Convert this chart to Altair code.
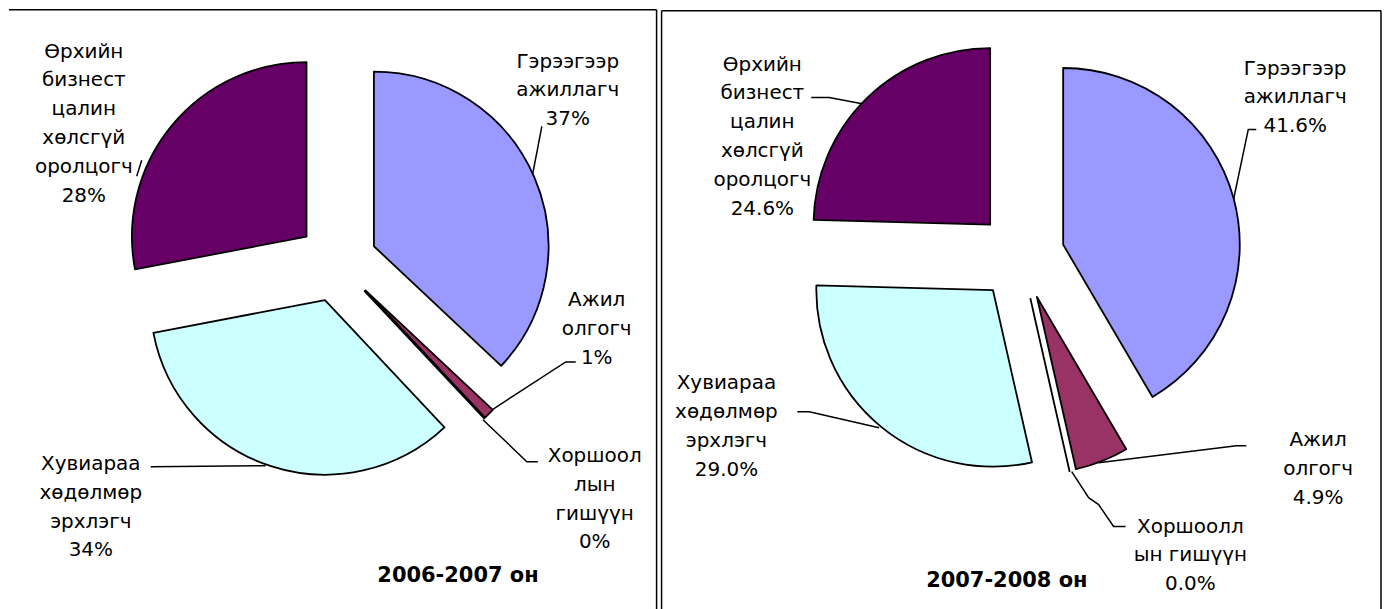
import altair as alt
import pandas as pd

# ---------------- data ----------------
categories = [
    "Гэрээгээр ажиллагч",
    "Ажил олгогч",
    "Хоршооллын гишүүн",
    "Хувиараа хөдөлмөр эрхлэгч",
    "Өрхийн бизнест цалин хөлсгүй оролцогч",
]
values_2006 = [37, 1, 0, 34, 28]
values_2007 = [41.6, 4.9, 0.0, 29.0, 24.6]
colors = ["#9999FF", "#993366", "#FFFFCC", "#CCFFFF", "#660066"]

names_2006 = [
    "Гэрээгээр\nажиллагч",
    "Ажил\nолгогч",
    "Хоршоол\nлын\nгишүүн",
    "Хувиараа\nхөдөлмөр\nэрхлэгч",
    "Өрхийн\nбизнест\nцалин\nхөлсгүй\nоролцогч",
]
names_2007 = [
    "Гэрээгээр\nажиллагч",
    "Ажил\nолгогч",
    "Хоршоолл\nын гишүүн",
    "Хувиараа\nхөдөлмөр\nэрхлэгч",
    "Өрхийн\nбизнест\nцалин\nхөлсгүй\nоролцогч",
]
titles = ["2006-2007 он", "2007-2008 он"]

# ---------------- layout (page pixels) ----------------
OFF = 8
FONT = "DejaVu Sans"

pie_2006 = dict(cx=337, cy=262, r=175, d=40)
pie_2007 = dict(cx=1022, cy=256, r=177, d=44)

# position of the first line of each label (centre x, middle y)
label_pos_2006 = [(568, 61), (597, 300), (595, 456), (90, 464), (83, 51)]
label_pos_2007 = [(1297, 68), (1320, 440), (1192, 527), (727, 383), (763, 64)]
title_pos = [(458, 577), (1008, 582)]

leaders_2006 = [
    [(542, 126), (532, 178)],
    [(486, 414), (566, 362), (576, 362)],
    [(483, 420), (527, 462), (538, 462)],
    [(150, 467), (265, 466)],
    [(136, 176), (141, 160)],
]
leaders_2007 = [
    [(1258, 129), (1250, 129), (1234, 205)],
    [(1100, 463), (1238, 446), (1248, 446)],
    [(1073, 472), (1090, 498), (1100, 505), (1115, 527), (1127, 527)],
    [(798, 412), (810, 412), (880, 428)],
    [(812, 97), (830, 97), (867, 104)],
]
frame_lines = [
    (8, 9, 657, 9), (657, 9, 657, 620),
    (662, 10, 1383, 10), (662, 10, 662, 620), (1383, 10, 1383, 620),
]


def pie(values, names, decimals, geo, label_pos, leaders, title, tpos):
    df = pd.DataFrame({
        "cat": categories,
        "value": values,
        "order": list(range(len(categories))),
        "label": [f"{n}\n{v:.{decimals}f}%" for n, v in zip(names, values)],
        "lx": [p[0] - OFF for p in label_pos],
        "ly": [p[1] - OFF for p in label_pos],
    })
    cx, cy, r, d = geo["cx"] - OFF, geo["cy"] - OFF, geo["r"], geo["d"]
    arcs = (
        alt.Chart(df)
        .transform_joinaggregate(total="sum(value)")
        .transform_window(cum="sum(value)", sort=[alt.SortField("order")], frame=[None, 0])
        .transform_calculate(
            t0="2*PI*(datum.cum-datum.value)/datum.total",
            t1="2*PI*datum.cum/datum.total",
            px=f"{cx}+{d}*sin((datum.t0+datum.t1)/2)",
            py=f"{cy}-{d}*cos((datum.t0+datum.t1)/2)",
        )
        .mark_arc(radius=r, stroke="black", strokeWidth=1.8, strokeJoin="round")
        .encode(
            x=alt.X("px:Q", scale=None),
            y=alt.Y("py:Q", scale=None),
            theta=alt.Theta("t0:Q", scale=None),
            theta2=alt.Theta2("t1:Q"),
            color=alt.Color("cat:N", scale=alt.Scale(domain=categories, range=colors), legend=None),
        )
    )
    labels = (
        alt.Chart(df)
        .mark_text(lineBreak="\n", font=FONT, fontSize=20, lineHeight=29,
                   align="center", baseline="middle", color="black")
        .encode(x=alt.X("lx:Q", scale=None), y=alt.Y("ly:Q", scale=None), text="label:N")
    )
    rows = []
    for i, seg in enumerate(leaders):
        for k, (x, y) in enumerate(seg):
            rows.append({"seg": i, "k": k, "x": x - OFF, "y": y - OFF})
    lead = (
        alt.Chart(pd.DataFrame(rows))
        .mark_line(color="black", strokeWidth=1.5)
        .encode(x=alt.X("x:Q", scale=None), y=alt.Y("y:Q", scale=None),
                detail="seg:N", order="k:Q")
    )
    tdf = pd.DataFrame({"t": [title], "x": [tpos[0] - OFF], "y": [tpos[1] - OFF]})
    ttl = (
        alt.Chart(tdf)
        .mark_text(font=FONT, fontSize=21, fontWeight="bold", align="center",
                   baseline="middle", color="black")
        .encode(x=alt.X("x:Q", scale=None), y=alt.Y("y:Q", scale=None), text="t:N")
    )
    return [lead, arcs, labels, ttl]


fdf = pd.DataFrame(
    [{"x": a - OFF, "y": b - OFF, "x2": c - OFF, "y2": e - OFF} for a, b, c, e in frame_lines]
)
frame = (
    alt.Chart(fdf)
    .mark_rule(color="black", strokeWidth=1.5)
    .encode(x=alt.X("x:Q", scale=None), y=alt.Y("y:Q", scale=None),
            x2="x2:Q", y2="y2:Q")
)

layers = [frame]
layers += pie(values_2006, names_2006, 0, pie_2006, label_pos_2006, leaders_2006, titles[0], title_pos[0])
layers += pie(values_2007, names_2007, 1, pie_2007, label_pos_2007, leaders_2007, titles[1], title_pos[1])

chart = (
    alt.layer(*layers)
    .properties(width=1374, height=601, padding=0, background="white")
    .configure_view(stroke=None)
)

chart.save("out.html", embed_options={"renderer": "svg", "actions": False})
